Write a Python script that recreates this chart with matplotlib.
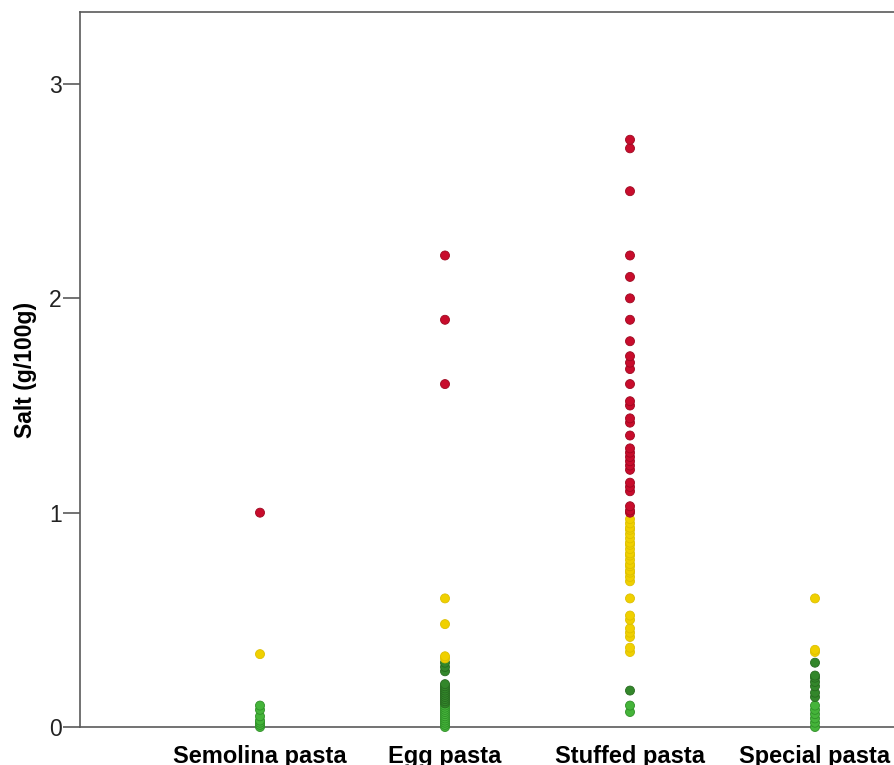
import numpy as np
import matplotlib
matplotlib.use('Agg')
import matplotlib.pyplot as plt

plt.rcParams['font.family'] = ['Liberation Sans', 'DejaVu Sans']

categories = ['Semolina pasta', 'Egg pasta', 'Stuffed pasta', 'Special pasta']

# salt values (g/100g)
semolina = [1.0, 0.34, 0.10, 0.08, 0.05, 0.03, 0.02, 0.01, 0.0]
egg = [2.2, 1.9, 1.6, 0.6, 0.48, 0.33, 0.32, 0.30, 0.28, 0.26,
       0.20, 0.19, 0.18, 0.17, 0.16, 0.15, 0.14, 0.13, 0.12, 0.11,
       0.10, 0.09, 0.08, 0.07, 0.06, 0.05, 0.04, 0.03, 0.02, 0.01, 0.0]
stuffed = [2.74, 2.70, 2.50, 2.20, 2.10, 2.00, 1.90, 1.80, 1.73, 1.70,
           1.67, 1.60, 1.52, 1.50, 1.44, 1.42, 1.36, 1.30, 1.28, 1.26,
           1.24, 1.22, 1.20, 1.14, 1.12, 1.10, 1.03, 1.01, 1.00,
           0.97, 0.95, 0.93, 0.92, 0.90, 0.88, 0.86, 0.85, 0.83, 0.81,
           0.80, 0.78, 0.76, 0.75, 0.73, 0.72, 0.70, 0.68,
           0.60, 0.52, 0.50, 0.46, 0.44, 0.42, 0.37, 0.35,
           0.17, 0.10, 0.07]
special = [0.60, 0.36, 0.35, 0.30, 0.24, 0.23, 0.21, 0.19, 0.16, 0.14,
           0.10, 0.08, 0.06, 0.04, 0.02, 0.0]

series = [semolina, egg, stuffed, special]
yticks = [0, 1, 2, 3]


def salt_colour(v):
    # traffic-light style bands
    if v >= 0.995:
        return '#C80C2C', '#9E0820'
    if v > 0.305:
        return '#F0D000', '#DDBF00'
    if v > 0.105:
        return '#33872B', '#276A20'
    return '#45B43A', '#2F8F28'


fig = plt.figure(figsize=(8.94, 7.65), dpi=100)
# axes runs past the right edge like the cropped original
ax = fig.add_axes([80 / 894, 38 / 765, 915 / 894, 715 / 765])

for i, vals in enumerate(series):
    vals = np.sort(np.array(vals))
    face = [salt_colour(v)[0] for v in vals]
    edge = [salt_colour(v)[1] for v in vals]
    ax.scatter(np.full(len(vals), i + 1), vals, s=42, c=face,
               edgecolors=edge, linewidths=0.6, zorder=3, clip_on=False)

ax.set_xlim(1 - 180 / 185, 4 + 180 / 185)
ax.set_ylim(0, 3.336)

ax.set_xticks(range(1, 5))
ax.set_xticklabels(categories, fontsize=17, fontweight='bold')
ax.tick_params(axis='x', length=0, pad=13)
ax.set_yticks(yticks)
ax.set_yticklabels([str(t) for t in yticks], fontsize=16.5, color='#222222')
ax.tick_params(axis='y', length=12, width=1.2, color='#5a5a5a', pad=1)

ax.set_ylabel('Salt (g/100g)', fontsize=16.5, fontweight='bold')
ax.yaxis.set_label_coords(-43 / 915, 0.5)

for sp in ax.spines.values():
    sp.set_color('#5a5a5a')
    sp.set_linewidth(1.2)

plt.savefig('out.png', dpi=100)
